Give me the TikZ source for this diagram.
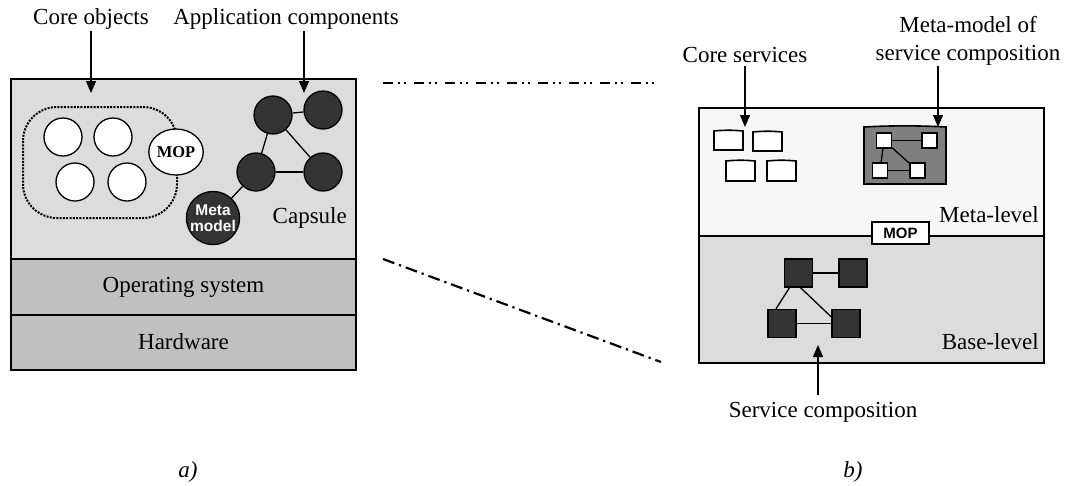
\documentclass[tikz,border=0pt]{standalone}
\usepackage{fontspec}
\setmainfont{Liberation Serif}
\newfontfamily\labelsans{Liberation Sans}
\usetikzlibrary{arrows.meta,shapes.geometric,calc}
\definecolor{capsulegray}{HTML}{DCDCDC}
\definecolor{layergray}{HTML}{C0C0C0}
\definecolor{metagray}{HTML}{F7F7F7}
\definecolor{darkfill}{HTML}{333333}
\definecolor{modelgray}{HTML}{7F7F7F}
\tikzset{
  txt/.style={font=\fontsize{23}{27}\selectfont, inner sep=0pt},
  layer/.style={draw=black, line width=1.8pt},
  pointer/.style={line width=1.3pt, -{Triangle[length=12pt,width=10pt]}},
  whiteobj/.style={circle, draw=black, line width=1.3pt, fill=white, minimum size=38pt, inner sep=0pt},
  darkobj/.style={circle, draw=black, line width=1.3pt, fill=darkfill, minimum size=38pt, inner sep=0pt},
  link/.style={line width=1.3pt},
  darksq/.style={draw=black, line width=1.3pt, fill=darkfill, minimum size=28pt, inner sep=0pt},
  whitesq/.style={draw=black, line width=1.3pt, fill=white, minimum size=15pt, inner sep=0pt},
  svcbox/.style={draw=black, line width=1.6pt, fill=white},
}
\begin{document}
\begin{tikzpicture}[x=1pt, y=-1pt]
\useasboundingbox (0,0) rectangle (1075,485);

% ---------- a) layered capsule ----------
\draw[layer, fill=capsulegray] (11,79) rectangle (356,259);
\draw[layer, fill=layergray] (11,259) rectangle (356,315);
\draw[layer, fill=layergray] (11,315) rectangle (356,370);
\node[txt] (os) at (183.5,287) {Operating system};
\node[txt] (hw) at (183.5,342) {Hardware};
\node[txt, anchor=east] (capsule) at (347,218) {Capsule};

% core objects group
\draw[line width=2pt, dash pattern=on 2pt off 1.3pt, rounded corners=34pt] (23,107) rectangle (177,218);
\node[whiteobj] (c1) at (63,137) {};
\node[whiteobj] (c2) at (113,137) {};
\node[whiteobj] (c3) at (75,182) {};
\node[whiteobj] (c4) at (127,182) {};
\node[ellipse, draw=black, line width=1.3pt, fill=white, minimum width=54pt, minimum height=46pt, inner sep=0pt,
      font=\fontsize{16.5}{18}\selectfont\bfseries] (mop) at (176,152) {MOP};

% application components
\node[darkobj] (a1) at (273,115) {};
\node[darkobj] (a2) at (323,110) {};
\node[darkobj] (a3) at (256,172) {};
\node[darkobj] (a4) at (323,172) {};
\node[circle, draw=black, line width=1.3pt, fill=darkfill, minimum size=44pt, inner sep=0pt,
      text=white, align=center, font=\labelsans\fontsize{15.5}{16.5}\selectfont\bfseries] (mm) at (213,218) {Meta\\model};
\draw[link] (a1) -- (a2);
\draw[link] (a1) -- (a3);
\draw[link] (a1) -- (a4);
\draw[link] (a3) -- (a4);
\draw[link] (a3) -- (mm);

\node[txt] (corelbl) at (91,19) {Core objects};
\node[txt] (applbl) at (286,19) {Application components};
\coordinate (coretip) at (91,93);
\coordinate (apptip) at (304,93);
\draw[pointer] (91,31) -- (coretip);
\draw[pointer] (304,31) -- (apptip);

\node[txt, font=\fontsize{23}{27}\selectfont\itshape] (la) at (188,472) {a)};

% ---------- connecting lines ----------
\coordinate (tl) at (383,83);
\coordinate (tr) at (656,83);
\coordinate (bl) at (383,259);
\coordinate (br) at (661,362);
\draw[line width=2.4pt, dash pattern=on 10pt off 4.5pt on 2pt off 4.5pt on 2pt off 8pt] (tl) -- (tr);
\draw[line width=2.2pt, dash pattern=on 12pt off 5pt on 2.2pt off 5pt] (bl) -- (br);

% ---------- b) meta-level / base-level ----------
\draw[layer, fill=metagray] (699,108) rectangle (1044,236);
\draw[layer, fill=capsulegray] (699,236) rectangle (1044,363);
\node[txt, anchor=east] (metalbl) at (1039,215) {Meta-level};
\node[txt, anchor=east] (baselbl) at (1039,342) {Base-level};
\node[draw=black, line width=1.3pt, fill=white, minimum width=57pt, minimum height=22pt, inner sep=0pt,
      font=\labelsans\fontsize{15}{17}\selectfont\bfseries] (mopb) at (900.5,233) {MOP};

% core services
\draw[svcbox] (714,150) -- (714,131) .. controls (724,130) and (733,130) .. (743,131) -- (743,150) -- cycle;
\draw[svcbox] (753,151) -- (753,132) .. controls (763,131) and (772,131) .. (782,132) -- (782,151) -- cycle;
\draw[svcbox] (726,181) -- (726,161) .. controls (736,160) and (745,160) .. (755,161) -- (755,181) -- cycle;
\draw[svcbox] (767,181) -- (767,161) .. controls (777,160) and (786,160) .. (796,161) -- (796,181) -- cycle;

% meta-model of the service composition
\draw[line width=1.6pt, fill=modelgray] (864,184) -- (864,127) .. controls (890,125.5) and (920,125.5) .. (946,127) -- (946,184) -- cycle;
\node[whitesq] (m1) at (884,140.5) {};
\node[whitesq] (m2) at (929.5,140.5) {};
\node[whitesq] (m3) at (880,170.5) {};
\node[whitesq] (m4) at (917.5,170.5) {};
\draw[link] (m1) -- (m2);
\draw[link] (m1) -- (m3);
\draw[link] (m1) -- (m4);
\draw[link] (m3) -- (m4);

% service composition
\node[darksq] (s1) at (798.5,273) {};
\node[darksq] (s2) at (853,273) {};
\node[darksq] (s3) at (782,323.5) {};
\node[darksq] (s4) at (846,323.5) {};
\draw[link] (s1) -- (s2);
\draw[link] ($(s1.south)+(-9,0)$) -- ($(s3.north)+(-6,0)$);
\draw[link] ($(s1.south)+(2,0)$) -- ($(s4.west)+(0,-6.5)$);
\draw[link] (s3) -- (s4);

\node[txt] (svclbl) at (745,55) {Core services};
\node[txt, align=center, font=\fontsize{23}{27.5}\selectfont] (mmlbl) at (968,41) {Meta-model of\\service composition};
\node[txt] (complbl) at (823,412) {Service composition};
\draw[pointer] (745,66) -- (745,127);
\draw[pointer] (938,66) -- (938,127);
\draw[pointer] (818,395) -- (818,345);

\node[txt, font=\fontsize{23}{27}\selectfont\itshape] (lb) at (853,472) {b)};
\end{tikzpicture}
\end{document}
